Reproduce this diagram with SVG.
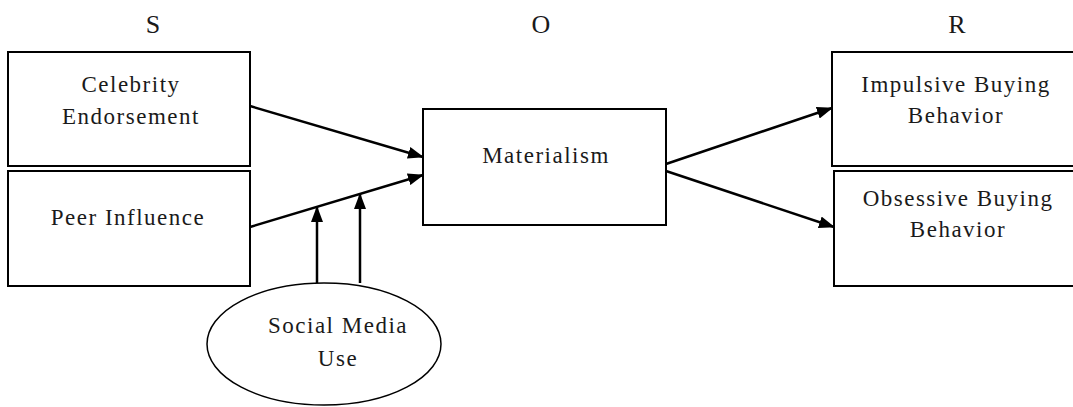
<svg xmlns="http://www.w3.org/2000/svg" width="1073" height="407" viewBox="0 0 1073 407">
<defs>
<style>
.box{fill:#fff;stroke:#000;stroke-width:2}
.t{font-family:"Liberation Serif","Times New Roman",serif;font-size:23px;letter-spacing:1.5px;fill:#1a1a1a;text-anchor:middle}
.h{font-family:"Liberation Serif","Times New Roman",serif;font-size:26px;fill:#1a1a1a;text-anchor:middle}
.c{stroke:#000;stroke-width:2.5;fill:none;marker-end:url(#ah)}
</style>
<marker id="ah" viewBox="0 0 16 12" refX="15" refY="6" markerWidth="16" markerHeight="12" markerUnits="userSpaceOnUse" orient="auto">
<path d="M0,0 L16,6 L0,12 z" fill="#000"/>
</marker>
</defs>
<rect width="1073" height="407" fill="#fff"/>
<text class="h" x="153" y="33">S</text>
<text class="h" x="541" y="33">O</text>
<text class="h" x="957" y="33">R</text>
<g id="celebrity">
<rect class="box" x="8" y="52" width="242" height="114"/>
<text class="t" x="131" y="92">Celebrity</text>
<text class="t" x="131" y="124">Endorsement</text>
</g>
<g id="peer">
<rect class="box" x="8" y="171" width="242" height="115"/>
<text class="t" x="128" y="225">Peer Influence</text>
</g>
<g id="materialism">
<rect class="box" x="423" y="109" width="243" height="116"/>
<text class="t" x="546" y="163">Materialism</text>
</g>
<g id="impulsive">
<rect class="box" x="832" y="52" width="250" height="114"/>
<text class="t" x="956" y="92">Impulsive Buying</text>
<text class="t" x="956" y="123">Behavior</text>
</g>
<g id="obsessive">
<rect class="box" x="834" y="171" width="250" height="115"/>
<text class="t" x="958" y="206">Obsessive Buying</text>
<text class="t" x="958" y="237">Behavior</text>
</g>
<g id="social">
<ellipse cx="324" cy="344" rx="117" ry="61" fill="#fff" stroke="#000" stroke-width="1.5"/>
<text class="t" x="338" y="333">Social Media</text>
<text class="t" x="338" y="366">Use</text>
</g>
<g id="connectors">
<line class="c" x1="250" y1="106" x2="423" y2="157"/>
<line class="c" x1="250" y1="227" x2="423" y2="175"/>
<line class="c" x1="317" y1="283" x2="317" y2="207"/>
<line class="c" x1="360" y1="283" x2="360" y2="194"/>
<line class="c" x1="666" y1="164" x2="832" y2="108"/>
<line class="c" x1="666" y1="171" x2="834" y2="227"/>
</g>
</svg>
